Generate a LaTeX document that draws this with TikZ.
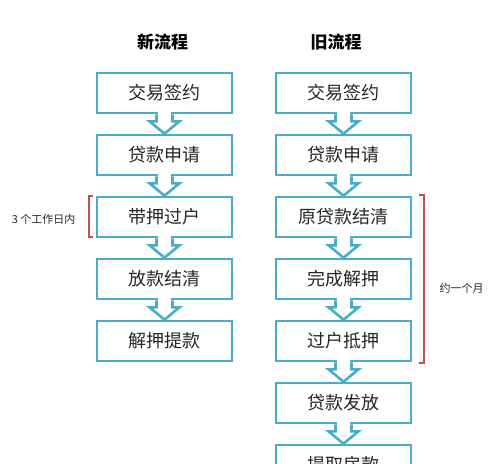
\documentclass[tikz,border=0pt]{standalone}
\usepackage{fontspec}
\newfontfamily\cjk{Noto Sans CJK SC}
\definecolor{boxteal}{HTML}{4BACC6}
\definecolor{brred}{HTML}{C0504D}
\definecolor{txt}{HTML}{262626}
\begin{document}
\begin{tikzpicture}[x=1pt,y=-1pt,
  stepbox/.style={draw=boxteal,line width=2.6pt,fill=white,minimum width=135pt,minimum height=40pt,inner sep=0pt,font=\cjk\fontsize{18}{20}\selectfont,text=txt},
  titletext/.style={font=\cjk\bfseries\fontsize{17}{19}\selectfont,text=black},
  notetext/.style={font=\cjk\fontsize{11}{13}\selectfont,text=txt},
  bracket/.style={draw=brred,line width=1.6pt},
  flowarrow/.style={draw=boxteal,line width=2.6pt,line join=miter,fill=white}
]
\useasboundingbox (0,0) rectangle (500,463);
\begin{scope}
\clip (0,0) rectangle (500,463);
\node[titletext] (tnew) at (162.5,42) {新流程};
\node[titletext] (told) at (336,42) {旧流程};
% left column
\node[stepbox] (l1) at (164.5,93) {交易签约};
\node[stepbox] (l2) at (164.5,155) {贷款申请};
\node[stepbox] (l3) at (164.5,217) {带押过户};
\node[stepbox] (l4) at (164.5,279) {放款结清};
\node[stepbox] (l5) at (164.5,341) {解押提款};
% right column
\node[stepbox] (r1) at (343.5,93) {交易签约};
\node[stepbox] (r2) at (343.5,155) {贷款申请};
\node[stepbox] (r3) at (343.5,217) {原贷款结清};
\node[stepbox] (r4) at (343.5,279) {完成解押};
\node[stepbox] (r5) at (343.5,341) {过户抵押};
\node[stepbox] (r6) at (343.5,403) {贷款发放};
\node[stepbox] (r7) at (343.5,465) {提取房款};
% block arrows
\foreach \a/\b in {l1/l2,l2/l3,l3/l4,l4/l5,r1/r2,r2/r3,r3/r4,r4/r5,r5/r6,r6/r7}{
  \path (\a.south) coordinate (s) (\b.north) coordinate (t);
  \fill[white] ([xshift=-6.6pt,yshift=2pt]s) rectangle ([xshift=6.6pt,yshift=-3pt]s);
  \draw[flowarrow] ([xshift=-8pt]s) -- ([xshift=-8pt,yshift=-7pt]s) -- ([xshift=-15pt,yshift=-7pt]s)
     -- (t) -- ([xshift=15pt,yshift=-7pt]s) -- ([xshift=8pt,yshift=-7pt]s) -- ([xshift=8pt]s);
}
% brackets
\coordinate (lbt) at (93,196);
\coordinate (lbb) at (93,237);
\draw[bracket] (lbt) -- ++(-4,0) -- (89,237) -- (lbb);
\node[notetext,anchor=east] (lnote) at (79,219) {3 个工作日内};
\coordinate (rbt) at (419,195);
\coordinate (rbb) at (419,363);
\draw[bracket] (rbt) -- ++(5,0) -- (424,363) -- (rbb);
\node[notetext,anchor=west] (rnote) at (436,288) {约一个月};
\end{scope}
\end{tikzpicture}
\end{document}
